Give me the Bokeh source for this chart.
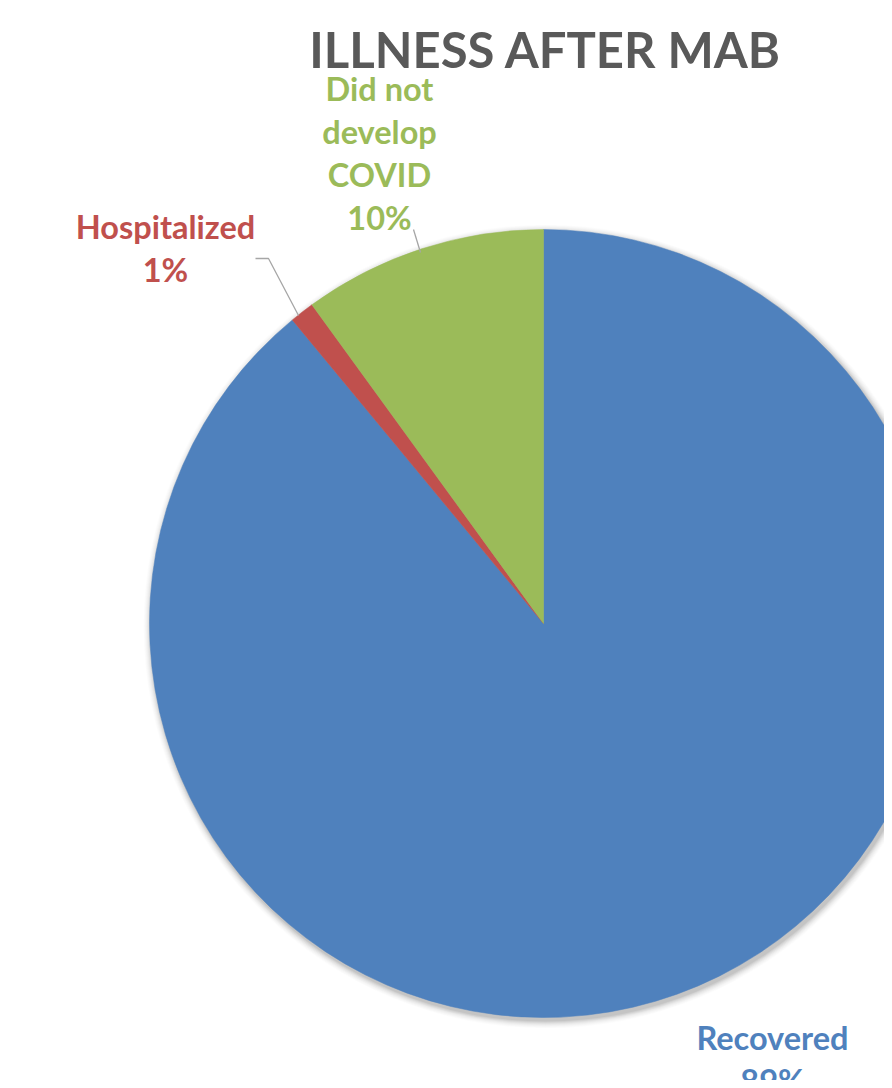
import math
from bokeh.plotting import figure
from bokeh.models import Range1d, ColumnDataSource
from bokeh.core.properties import value
from bokeh.embed import file_html
from bokeh.resources import INLINE

# ---- data ----
title_text = "ILLNESS AFTER MAB"
categories = ["Recovered", "Hospitalized", "Did not develop COVID"]
label_lines = [["Recovered"], ["Hospitalized"], ["Did not", "develop", "COVID"]]
percent = [89, 1, 10]
colors = ["#4F81BD", "#C0504D", "#9BBB59"]

# ---- layout (picture pixel coordinates; data y = 1080 - picture y) ----
W, H = 884, 1080
def sy(y):
    return H - y

cx, cy, R = 543, sy(623), 394
label_anchor = [(772, 1037), (165, 226), (379, 88)]
line_step = 43
font = value("Lato")

p = figure(width=W, height=H, output_backend="svg", toolbar_location=None,
           x_range=Range1d(0, W), y_range=Range1d(0, H),
           min_border=0, outline_line_color=None)
p.axis.visible = False
p.grid.visible = False
p.background_fill_color = "white"
p.border_fill_color = "white"

# soft shadow
for i, a in enumerate([0.05, 0.045, 0.04, 0.03, 0.025, 0.02, 0.015, 0.01]):
    p.circle(x=cx + 2, y=cy - 3, radius=R + i + 1, fill_color="black",
             fill_alpha=a, line_color=None)

# wedges: start at 12 o'clock, clockwise
total = sum(percent)
starts, ends = [], []
cum = 0.0
for v in percent:
    a0 = math.pi / 2 - 2 * math.pi * (cum + v) / total
    a1 = math.pi / 2 - 2 * math.pi * cum / total
    starts.append(a0)
    ends.append(a1)
    cum += v
src = ColumnDataSource(dict(start=starts, end=ends, color=colors, cat=categories))
p.wedge(x=cx, y=cy, radius=R, start_angle="start", end_angle="end",
        direction="anticlock", fill_color="color", line_color="color",
        line_width=0.5, source=src)

# leader lines
p.line(x=[255, 268, 298], y=[sy(258), sy(258), sy(315)], line_color="#A6A6A6", line_width=1.3)
p.line(x=[413, 420], y=[sy(229), sy(252)], line_color="#A6A6A6", line_width=1.3)

# labels
tx, ty, tt, tc = [], [], [], []
for lines, pc, col, (ax, ay) in zip(label_lines, percent, colors, label_anchor):
    allines = lines + [f"{pc}%"]
    for k, s in enumerate(allines):
        tx.append(ax)
        ty.append(sy(ay + k * line_step))
        tt.append(s)
        tc.append(col)
p.text(x=tx, y=ty, text=tt, text_color=tc, text_font=font,
       text_font_style="bold", text_font_size="32.5px",
       text_align="center", text_baseline="middle")

# title
p.text(x=[545], y=[sy(48)], text=[title_text], text_color="#595959",
       text_font=font, text_font_style="bold", text_font_size="49px",
       text_align="center", text_baseline="middle")

open("out.html", "w").write(file_html(p, INLINE))
